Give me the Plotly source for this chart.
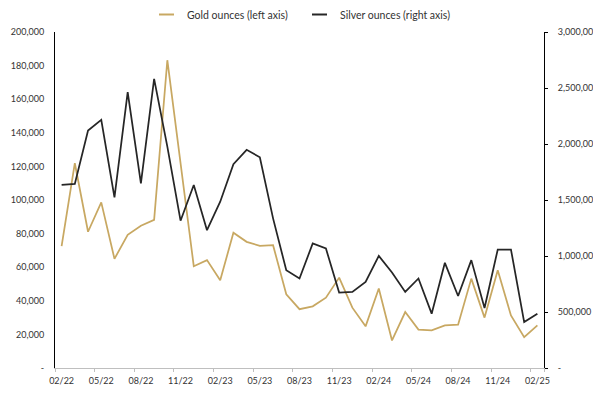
import plotly.graph_objects as go

months = ["02/22", "03/22", "04/22", "05/22", "06/22", "07/22", "08/22", "09/22", "10/22", "11/22", "12/22", "01/23",
          "02/23", "03/23", "04/23", "05/23", "06/23", "07/23", "08/23", "09/23", "10/23", "11/23", "12/23", "01/24",
          "02/24", "03/24", "04/24", "05/24", "06/24", "07/24", "08/24", "09/24", "10/24", "11/24", "12/24", "01/25",
          "02/25"]

gold = [72500, 121900, 81100, 98600, 65000, 79300, 84700, 88200, 183200, 123000, 60600, 64200,
        52200, 80500, 75100, 72700, 73100, 43900, 35000, 36700, 41900, 53800, 35900, 24800,
        47300, 16400, 33300, 22900, 22400, 25400, 25800, 53200, 30000, 58200, 31300, 18400,
        25400]

silver = [1634000, 1643000, 2121000, 2216000, 1524000, 2464000, 1649000, 2581000, 1977000, 1315000, 1634000, 1231000,
          1485000, 1819000, 1948000, 1882000, 1336000, 873000, 799000, 1112000, 1067000, 673000, 679000, 769000,
          1001000, 852000, 679000, 799000, 485000, 939000, 643000, 963000, 536000, 1058000, 1058000, 410000,
          485000]

x_tick_labels = ["02/22", "05/22", "08/22", "11/22", "02/23", "05/23", "08/23", "11/23", "02/24", "05/24", "08/24",
                 "11/24", "02/25"]
left_ticks = [0, 20000, 40000, 60000, 80000, 100000, 120000, 140000, 160000, 180000, 200000]
right_ticks = [0, 500000, 1000000, 1500000, 2000000, 2500000, 3000000]

series_names = ["Gold ounces (left axis)", "Silver ounces (right axis)"]

GOLD = "#C8A862"
SILVER = "#262626"
TEXT = "#333333"
FONT = "Lato"

OFF = 8  # default page body margin
W, H = 601 - OFF, 394 - OFF
PW, PH = 489, 336
ML, MT = 55 - OFF, 32 - OFF
MR, MB = W - ML - PW, H - MT - PH

x = list(range(len(months)))
x_tickvals = [months.index(t) for t in x_tick_labels]
boundaries = [v - 0.5 for v in x_tickvals] + [len(months) - 0.5]

def fmt(v):
    return "-" if v == 0 else f"{v:,}"

def px_x(p):
    return (p - OFF - ML) / PW

def px_y(p):
    return (MT + PH - (p - OFF)) / PH

fig = go.Figure()
fig.add_trace(go.Scatter(x=x, y=gold, name=series_names[0], mode="lines",
                         line=dict(color=GOLD, width=1.75)))
fig.add_trace(go.Scatter(x=x, y=silver, name=series_names[1], mode="lines", yaxis="y2",
                         line=dict(color=SILVER, width=1.75)))

# manual legend (line samples + text)
legend_items = [(series_names[0], GOLD, 159), (series_names[1], SILVER, 312)]
legend_y = px_y(14.5)
for name, color, x0 in legend_items:
    fig.add_shape(type="line", xref="paper", yref="paper",
                  x0=px_x(x0), x1=px_x(x0 + 15), y0=legend_y, y1=legend_y,
                  line=dict(color=color, width=2))
    fig.add_annotation(xref="paper", yref="paper", x=px_x(x0 + 26), y=legend_y,
                       xanchor="left", yanchor="middle", text=name, showarrow=False,
                       font=dict(family=FONT, size=10.5, color=TEXT))

fig.update_layout(
    width=W, height=H,
    margin=dict(l=ML, r=MR, t=MT, b=MB, autoexpand=False),
    paper_bgcolor="white", plot_bgcolor="white",
    font=dict(family=FONT, size=9, color=TEXT),
    showlegend=False,
    xaxis=dict(range=[-0.5, len(months) - 0.5], tickmode="array", tickvals=x_tickvals, ticktext=x_tick_labels,
               ticks="", showline=True, linecolor="#BFBFBF", linewidth=1, showgrid=False, zeroline=False,
               ticklabelstandoff=4, automargin=False,
               minor=dict(tickmode="array", tickvals=boundaries, ticks="outside", ticklen=3,
                          tickcolor="#BFBFBF", tickwidth=1, showgrid=False)),
    yaxis=dict(range=[0, 200000], tickmode="array", tickvals=left_ticks, ticktext=[fmt(v) for v in left_ticks],
               ticks="", showline=True, linecolor="#000000", linewidth=1, showgrid=False, zeroline=False,
               ticklabelstandoff=8, automargin=False),
    yaxis2=dict(range=[0, 3000000], tickmode="array", tickvals=right_ticks, ticktext=[fmt(v) for v in right_ticks],
                overlaying="y", side="right", ticks="outside", ticklen=3, tickcolor="#000000",
                showline=True, linecolor="#000000", linewidth=1, showgrid=False, zeroline=False,
                ticklabelstandoff=8, automargin=False),
)

fig.write_html("out.html")
